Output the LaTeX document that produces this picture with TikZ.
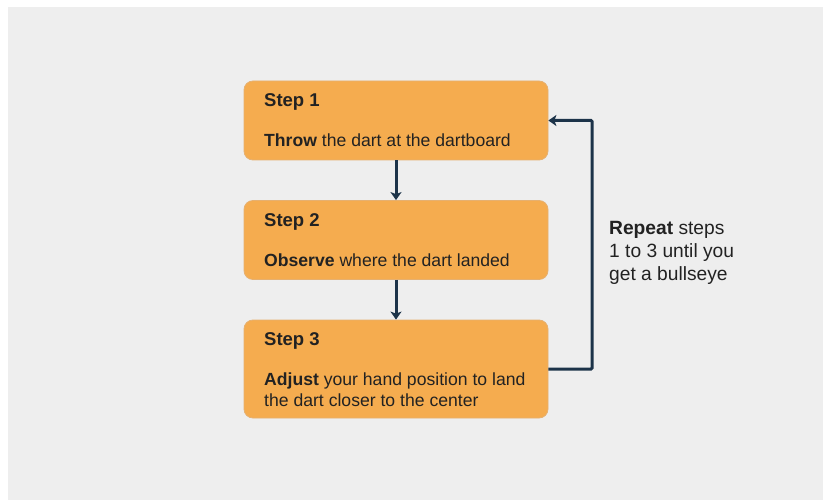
\documentclass[tikz,border=0pt]{standalone}
\usepackage{fontspec}
\setmainfont{Liberation Sans}
\usetikzlibrary{arrows.meta}
\definecolor{bg}{HTML}{EEEEEE}
\definecolor{boxfill}{HTML}{F5AC4F}
\definecolor{boxline}{HTML}{E6B070}
\definecolor{navy}{HTML}{1C3349}
\definecolor{ink}{HTML}{222222}
\tikzset{
  stepbox/.style={draw=boxline, line width=0.8pt, fill=boxfill,
    rounded corners=9pt, minimum width=304pt, inner sep=0pt},
  title/.style={anchor=base west, inner sep=0pt, text=ink,
    font=\fontsize{18.5}{22}\selectfont\bfseries},
  body/.style={anchor=base west, inner sep=0pt, text=ink, align=left,
    font=\fontsize{17.6}{21}\selectfont},
  conn/.style={draw=navy, line width=3pt,
    -{Stealth[length=8pt,width=11pt,inset=2pt]}},
}
\begin{document}
\begin{tikzpicture}[x=1pt,y=-1pt]
  % canvas
  \useasboundingbox (0,0) rectangle (823,500);
  \fill[white] (0,0) rectangle (823,500);
  \fill[bg] (8,7) rectangle (823,500);

  % step boxes
  \node[stepbox, minimum height=79pt] (s1) at (396,120.5) {};
  \node[stepbox, minimum height=79pt] (s2) at (396,240) {};
  \node[stepbox, minimum height=98pt] (s3) at (396,369) {};

  % box texts (base anchor sits on the last line)
  \node[title] (t1) at (264,107) {Step 1};
  \node[body]  (b1) at (264,147) {\textbf{Throw} the dart at the dartboard};
  \node[title] (t2) at (264,226) {Step 2};
  \node[body]  (b2) at (264,266) {\textbf{Observe} where the dart landed};
  \node[title] (t3) at (264,345.5) {Step 3};
  \node[body]  (b3) at (264,406) {\textbf{Adjust} your hand position to land\\the dart closer to the center};

  % loop label
  \node[body, font=\fontsize{19.2}{23}\selectfont] (rep) at (609,280)
    {\textbf{Repeat} steps\\1 to 3 until you\\get a bullseye};

  % connectors
  \draw[conn] (s1.south) -- (s2.north);
  \draw[conn] (s2.south) -- (s3.north);
  \coordinate (loop) at (592,0);
  \draw[conn, rounded corners=1pt] (s3.east) -| (loop |- s3.east) |- (s1.east);
\end{tikzpicture}
\end{document}
